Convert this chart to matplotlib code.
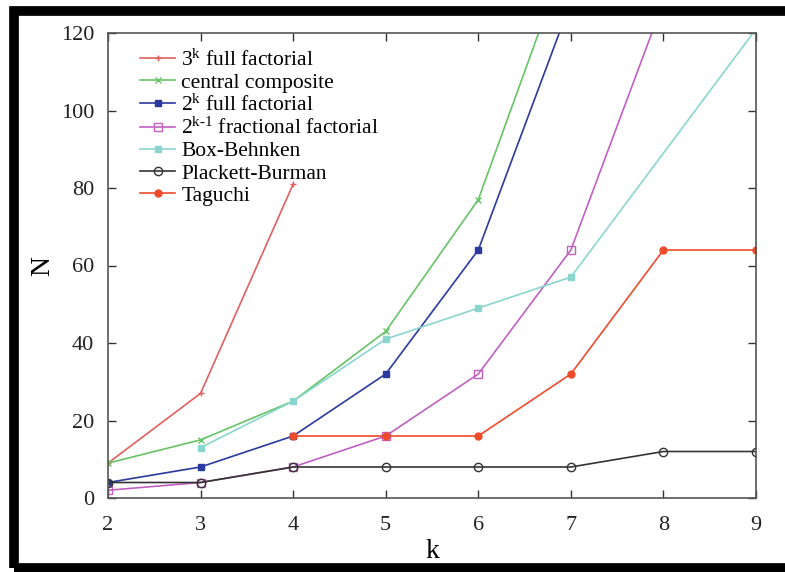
import numpy as np
import matplotlib
matplotlib.use("Agg")
import matplotlib.pyplot as plt
from matplotlib.patches import Rectangle

plt.rcParams['font.family'] = ['Liberation Serif', 'DejaVu Serif']
plt.rcParams['mathtext.fontset'] = 'custom'
plt.rcParams['mathtext.rm'] = 'Liberation Serif'
plt.rcParams['mathtext.it'] = 'Liberation Serif'

# nombre d'essais N selon le nombre de facteurs k
k_3k = [2, 3, 4]
n_3k = [9, 27, 81]

k_cc = [2, 3, 4, 5, 6, 7]
n_cc = [9, 15, 25, 43, 77, 143]

k_2k = [2, 3, 4, 5, 6, 7]
n_2k = [4, 8, 16, 32, 64, 128]

k_frac = [2, 3, 4, 5, 6, 7, 8]
n_frac = [2, 4, 8, 16, 32, 64, 128]

k_bb = [3, 4, 5, 6, 7, 9]
n_bb = [13, 25, 41, 49, 57, 121]

k_pb = [2, 3, 4, 5, 6, 7, 8, 9]
n_pb = [4, 4, 8, 8, 8, 8, 12, 12]

k_tag = [4, 5, 6, 7, 8, 9]
n_tag = [16, 16, 16, 32, 64, 64]

x_ticks = [2, 3, 4, 5, 6, 7, 8, 9]
y_ticks = [0, 20, 40, 60, 80, 100, 120]

fig = plt.figure(figsize=(7.85, 5.72), dpi=100)
ax = fig.add_axes([108 / 785, 74 / 572, 648 / 785, 465 / 572])

lw = 1.2
ax.plot(k_3k, n_3k, color='#e06060', lw=lw, marker='+', ms=5, label=r'$3^{k}$ full factorial')
ax.plot(k_cc, n_cc, color='#66c466', lw=lw, marker='x', ms=5, label='central composite')
ax.plot(k_2k, n_2k, color='#2a3a9e', lw=lw, marker='s', ms=4, label=r'$2^{k}$ full factorial')
ax.plot(k_frac, n_frac, color='#c060c0', lw=lw, marker='s', ms=6, mfc='none',
        label=r'$2^{k\text{-}1}$ fractional factorial')
ax.plot(k_bb, n_bb, color='#8ad6cf', lw=lw, marker='s', ms=5, label='Box-Behnken')
ax.plot(k_pb, n_pb, color='#333333', lw=lw, marker='o', ms=6, mfc='none', label='Plackett-Burman')
ax.plot(k_tag, n_tag, color='#ec4c2c', lw=lw, marker='o', ms=5, label='Taguchi')

ax.set_xlim(2, 9)
ax.set_ylim(0, 120)
ax.set_xticks(x_ticks)
ax.set_yticks(y_ticks)
ax.tick_params(direction='in', length=6, width=1, top=True, right=True,
               labelsize=16, pad=10, colors='#333333', labelcolor='#222222')
ax.tick_params(axis='x', pad=13)
for s in ax.spines.values():
    s.set_color('#555555')
    s.set_linewidth(1.2)

ax.set_xlabel('k', fontsize=20, labelpad=3)
ax.set_ylabel('N', fontsize=20, labelpad=4)

ax.legend(loc='upper left', frameon=False, fontsize=15.5, handlelength=1.6,
          handletextpad=0.3, labelspacing=0.1, borderaxespad=0.35,
          bbox_to_anchor=(0.025, 1.0))

# cadre noir autour de l'image
fig.patches.append(Rectangle((14 / 785, 4.5 / 572), 1.2, 557 / 572, transform=fig.transFigure,
                             fill=False, edgecolor='black', linewidth=7))

fig.savefig('out.png', dpi=100)
